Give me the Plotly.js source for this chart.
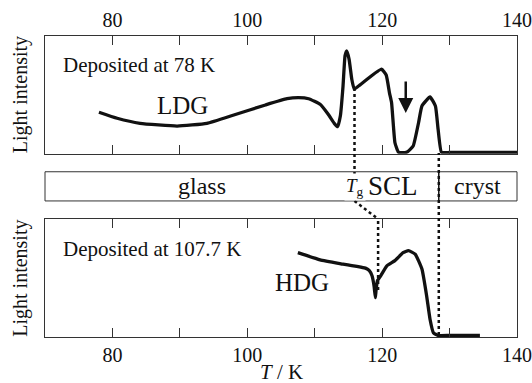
<!DOCTYPE html>
<html>
<head>
<meta charset="utf-8">
<script src="https://cdn.plot.ly/plotly-3.0.1.min.js"></script>
<style>html,body{margin:0;padding:0;background:#fff;}#chart{width:532px;height:383px;}</style>
</head>
<body>
<div id="chart"></div>
<script>
// LDG: deposited at 78 K (top panel)
const tempLDG = [78.0, 80.7, 84.1, 89.6, 94.0, 98.0, 102.7, 105.9, 107.6, 109.1, 110.8, 112.0, 112.9, 113.4, 113.8, 114.2, 114.5, 114.75, 115.1, 115.5, 115.85, 116.5, 119.9, 120.6, 121.1, 121.4, 121.9, 122.4, 123.0, 123.7, 124.6, 125.4, 125.9, 127.1, 127.9, 128.3, 128.8, 130.0, 135.0, 140.0];
const intLDG  = [35.2, 30.1, 25.8, 23.5, 25.8, 32.9, 41.4, 46.7, 47.6, 46.7, 42.0, 33.5, 25.8, 22.9, 32.0, 57.5, 83.3, 87.4, 80.2, 63.2, 55.0, 57.5, 71.8, 66.9, 51.3, 43.3, 9.3, 1.4, 0.8, 1.4, 6.5, 26.3, 40.5, 48.2, 40.5, 20.7, 1.2, 1.0, 1.0, 1.0];
// HDG: deposited at 107.7 K (bottom panel)
const tempHDG = [107.5, 110.8, 114.2, 117.6, 118.1, 118.5, 118.8, 119.0, 119.1, 119.3, 119.85, 120.7, 121.9, 123.1, 123.9, 124.9, 125.9, 126.6, 127.1, 127.6, 128.3, 130.0, 134.5];
const intHDG  = [71.7, 65.6, 61.9, 58.3, 56.4, 52.0, 43.4, 33.4, 39.8, 47.7, 52.6, 60.5, 64.9, 71.6, 73.4, 70.4, 57.7, 34.9, 15.1, 3.7, 1.3, 1.3, 1.3];

const majorTick0 = 80, majorStep = 20, minorStep = 10;
const phaseLabels = ['glass', 'SCL', 'cryst'];
const phaseCenters = [93.3, 121.6, 134.2];
const TgTemp = 115.9, TgHDG = 119.4, crystTemp = 128.4, arrowTemp = 123.5;

const FONT = 'Liberation Serif';
const C = '#111';

const traces = [
  {x: tempLDG, y: intLDG, xaxis: 'x2', yaxis: 'y2', mode: 'lines',
   line: {color: C, width: 3.3, shape: 'spline', smoothing: 0.4}, hoverinfo: 'skip'},
  {x: tempHDG, y: intHDG, xaxis: 'x', yaxis: 'y', mode: 'lines',
   line: {color: C, width: 3.3, shape: 'spline', smoothing: 0.4}, hoverinfo: 'skip'}
];

const axX = {
  range: [70, 140], tickmode: 'linear', tick0: majorTick0, dtick: majorStep,
  ticks: 'inside', ticklen: 9, tickwidth: 1, tickcolor: '#333',
  minor: {dtick: minorStep, tick0: majorTick0, ticks: 'inside', ticklen: 9, tickwidth: 1, tickcolor: '#333', showgrid: false},
  showline: true, linecolor: '#333', linewidth: 1, mirror: 'ticks',
  showgrid: false, zeroline: false, tickfont: {family: FONT, size: 20, color: C}
};
const axY = {
  range: [0, 100], showticklabels: false, ticks: '', showline: true, linecolor: '#333',
  linewidth: 1, mirror: true, showgrid: false, zeroline: false, fixedrange: true
};

const F = (s) => ({family: FONT, size: s, color: C});
const dot = {color: C, width: 2.5, dash: 'dot'};
const layout = {
  width: 532, height: 383,
  margin: {l: 45, r: 15, t: 36, b: 46},
  paper_bgcolor: '#fff', plot_bgcolor: 'rgba(0,0,0,0)',
  showlegend: false,
  font: F(20),
  xaxis: Object.assign({}, axX, {anchor: 'y', domain: [0, 1]}),
  yaxis: Object.assign({}, axY, {domain: [0, 0.391]}),
  xaxis2: Object.assign({}, axX, {anchor: 'y2', side: 'top', domain: [0, 1]}),
  yaxis2: Object.assign({}, axY, {domain: [0.609, 1]}),
  shapes: [
    {type: 'rect', xref: 'paper', yref: 'paper', x0: 0, x1: 1, y0: 0.452, y1: 0.549,
     line: {color: '#333', width: 1}},
    {type: 'line', xref: 'x', yref: 'paper', x0: crystTemp, x1: crystTemp, y0: 0.452, y1: 0.549,
     line: {color: C, width: 1.5}},
    {type: 'line', xref: 'x', yref: 'paper', x0: crystTemp, x1: crystTemp, y0: 0.007, y1: 0.611, line: dot},
    {type: 'line', xref: 'x', yref: 'paper', x0: TgTemp, x1: TgTemp, y0: 0.538, y1: 0.823, line: dot},
    {type: 'line', xref: 'x', yref: 'paper', x0: TgTemp, x1: TgHDG, y0: 0.452, y1: 0.392, line: dot},
    {type: 'line', xref: 'x', yref: 'paper', x0: TgHDG, x1: TgHDG, y0: 0.156, y1: 0.392, line: dot}
  ],
  annotations: [
    {xref: 'paper', yref: 'paper', x: -0.052, y: 0.805, text: 'Light intensity', textangle: -90,
     showarrow: false, font: F(20), xanchor: 'center', yanchor: 'middle'},
    {xref: 'paper', yref: 'paper', x: -0.052, y: 0.195, text: 'Light intensity', textangle: -90,
     showarrow: false, font: F(20), xanchor: 'center', yanchor: 'middle'},
    {xref: 'paper', yref: 'paper', x: 0.5, y: -0.115, text: '<i>T</i> / K',
     showarrow: false, font: F(21), xanchor: 'center', yanchor: 'middle'},
    {xref: 'x2', yref: 'y2', x: 72.3, y: 75, text: 'Deposited at 78 K', showarrow: false,
     font: F(21), xanchor: 'left', yanchor: 'middle'},
    {xref: 'x2', yref: 'y2', x: 90.4, y: 41, text: 'LDG', showarrow: false,
     font: F(25), xanchor: 'center', yanchor: 'middle'},
    {xref: 'x', yref: 'y', x: 72.3, y: 75, text: 'Deposited at 107.7 K', showarrow: false,
     font: F(21), xanchor: 'left', yanchor: 'middle'},
    {xref: 'x', yref: 'y', x: 108.1, y: 46, text: 'HDG', showarrow: false,
     font: F(25), xanchor: 'center', yanchor: 'middle'},
    {xref: 'x', yref: 'paper', x: phaseCenters[0], y: 0.501, text: phaseLabels[0], showarrow: false,
     font: F(24), xanchor: 'center', yanchor: 'middle'},
    {xref: 'x', yref: 'paper', x: phaseCenters[1], y: 0.501, text: phaseLabels[1], showarrow: false,
     font: F(27), xanchor: 'center', yanchor: 'middle'},
    {xref: 'x', yref: 'paper', x: phaseCenters[2], y: 0.501, text: phaseLabels[2], showarrow: false,
     font: F(24), xanchor: 'center', yanchor: 'middle'},
    {xref: 'x', yref: 'paper', x: TgTemp, y: 0.497, text: '<i>T</i><sub>g</sub>', showarrow: false,
     font: F(19), xanchor: 'center', yanchor: 'middle', bgcolor: '#fff'},
    {xref: 'x2', yref: 'y2', x: arrowTemp, y: 34.6, ax: 0, ay: -33, text: '', showarrow: true,
     arrowhead: 2, arrowsize: 1.2, arrowwidth: 2.5, arrowcolor: C}
  ]
};

Plotly.newPlot('chart', traces, layout, {staticPlot: true, displayModeBar: false});
</script>
</body>
</html>
